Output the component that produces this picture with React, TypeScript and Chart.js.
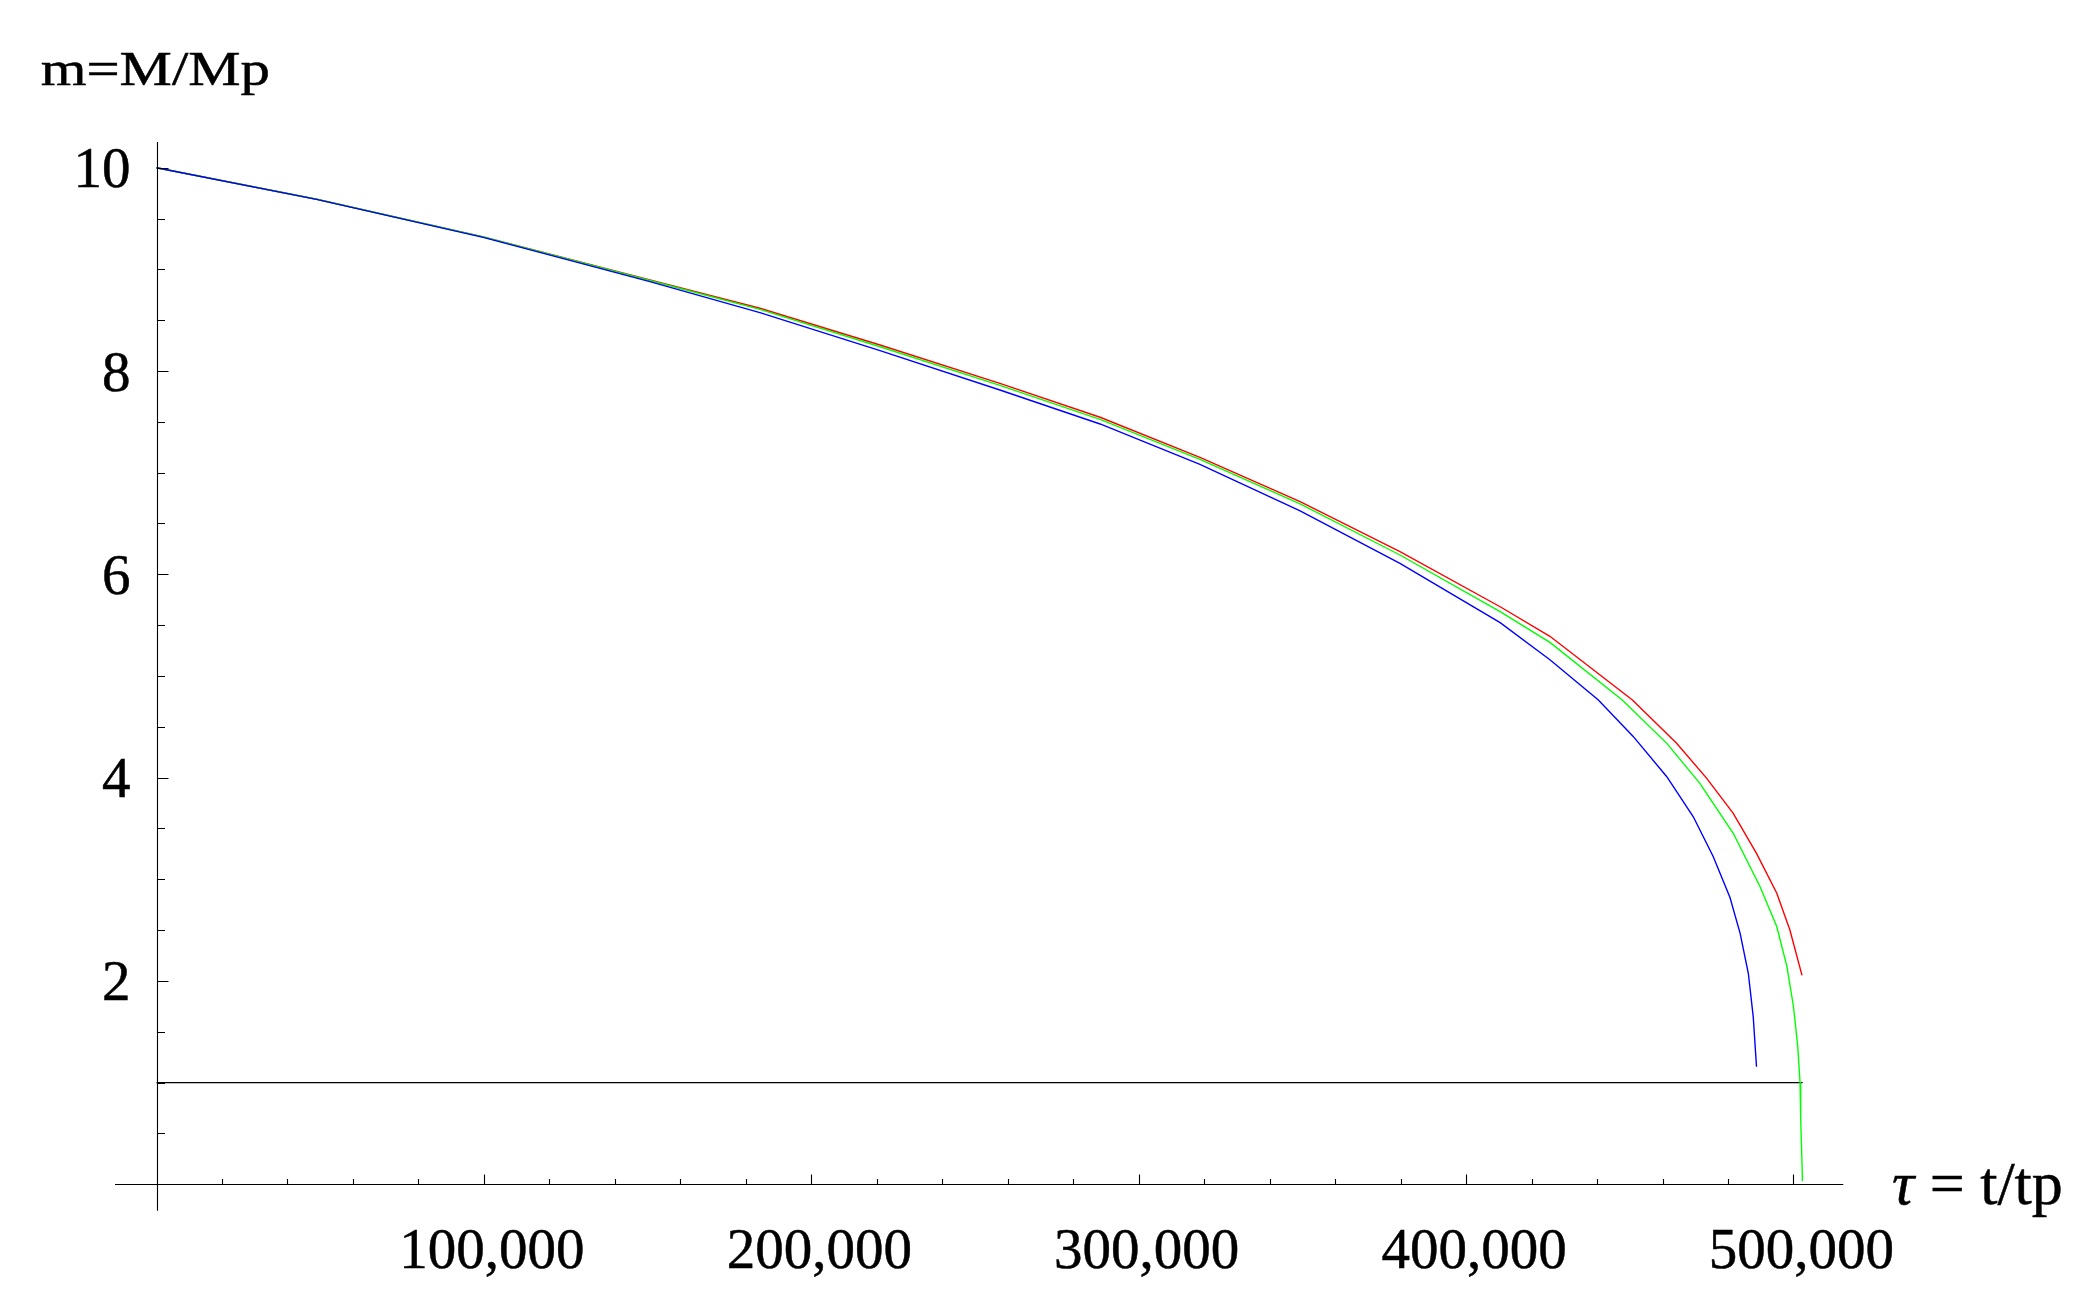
import React, { useEffect, useRef } from 'react';
import { Chart, registerables } from 'chart.js';

Chart.register(...registerables);

// ---- data ----
const redTau = [0, 48900, 99800, 150700, 184300, 221000, 257600, 288200, 318700, 349300, 379800, 410400, 425600, 450800, 464300, 473500, 481600, 488700, 494900, 498900, 502600];
const redM = [10, 9.69, 9.32, 8.895, 8.617, 8.256, 7.879, 7.545, 7.151, 6.714, 6.222, 5.681, 5.39, 4.763, 4.337, 3.993, 3.649, 3.255, 2.862, 2.501, 2.055];

const greenTau = [0, 48900, 99800, 150700, 184300, 221000, 257600, 288200, 318700, 349300, 379800, 410400, 425600, 447700, 461300, 471400, 481600, 489800, 494900, 498000, 500000, 501300, 502000, 502200, 502700, 502700];
const greenM = [10, 9.69, 9.318, 8.89, 8.607, 8.239, 7.859, 7.525, 7.131, 6.692, 6.19, 5.632, 5.33, 4.763, 4.337, 3.944, 3.452, 2.927, 2.533, 2.14, 1.746, 1.353, 1.0, 0.64, 0.09, 0.03];

const blueTau = [0, 48900, 99800, 150700, 184300, 221000, 257600, 288200, 318700, 349300, 379800, 410400, 425600, 440400, 451100, 461300, 469400, 475500, 480600, 483700, 486200, 487700, 488700];
const blueM = [10, 9.689, 9.315, 8.879, 8.574, 8.2, 7.813, 7.479, 7.082, 6.623, 6.108, 5.524, 5.16, 4.763, 4.403, 4.009, 3.615, 3.222, 2.82, 2.468, 2.075, 1.648, 1.156];

const thresholdTau = [0, 502800];
const thresholdM = [1, 1];

const xTickValues = [100000, 200000, 300000, 400000, 500000];
const xTickLabels = ['100,000', '200,000', '300,000', '400,000', '500,000'];
const yTickValues = [2, 4, 6, 8, 10];
const yTickLabels = ['2', '4', '6', '8', '10'];
const xMinorStep = 20000;
const yMinorStep = 0.5;

const yAxisTitle = 'm=M/Mp';
const xAxisTitleSymbol = 'τ';
const xAxisTitleRest = ' = t/tp';

const SERIF = "'Liberation Serif', 'Times New Roman', 'DejaVu Serif', serif";

const pts = (xs: number[], ys: number[]) => xs.map((x, i) => ({ x, y: ys[i] }));

const boldText = (ctx: CanvasRenderingContext2D, s: string, x: number, y: number) => {
  ctx.fillText(s, x, y);
  ctx.strokeText(s, x, y);
};

const axesPlugin = {
  id: 'mmaAxes',
  afterDatasetsDraw(chart: any) {
    const { ctx, chartArea } = chart;
    const xs = chart.scales.x;
    const ys = chart.scales.y;
    const x0 = Math.round(xs.getPixelForValue(0)) + 0.5;
    const y0 = Math.round(ys.getPixelForValue(0)) + 0.5;
    ctx.save();
    ctx.strokeStyle = '#000';
    ctx.lineWidth = 1.1;
    ctx.beginPath();
    ctx.moveTo(chartArea.left, y0);
    ctx.lineTo(chartArea.right, y0);
    ctx.moveTo(x0, chartArea.top);
    ctx.lineTo(x0, chartArea.bottom);
    for (let k = 1; k * xMinorStep <= xs.max; k++) {
      const v = k * xMinorStep;
      const major = xTickValues.includes(v);
      const px = Math.round(xs.getPixelForValue(v)) + 0.5;
      ctx.moveTo(px, y0);
      ctx.lineTo(px, y0 - (major ? 10 : 5.5));
    }
    for (let k = 1; k * yMinorStep <= ys.max; k++) {
      const v = k * yMinorStep;
      const major = yTickValues.includes(v);
      const py = Math.round(ys.getPixelForValue(v)) + 0.5;
      ctx.moveTo(x0, py);
      ctx.lineTo(x0 + (major ? 11 : 7.5), py);
    }
    ctx.stroke();

    ctx.fillStyle = '#000';
    ctx.lineWidth = 0.5;
    ctx.font = `57px ${SERIF}`;
    ctx.textBaseline = 'alphabetic';
    ctx.textAlign = 'center';
    xTickValues.forEach((v, i) => {
      boldText(ctx, xTickLabels[i], xs.getPixelForValue(v) + 8, y0 + 83);
    });
    ctx.textAlign = 'right';
    yTickValues.forEach((v, i) => {
      boldText(ctx, yTickLabels[i], x0 - 27, ys.getPixelForValue(v) + 19.5);
    });

    // y axis title (stretched horizontally like the reference)
    ctx.save();
    ctx.translate(40.7, 85);
    ctx.scale(1.2, 1);
    ctx.textAlign = 'left';
    ctx.font = `49px ${SERIF}`;
    boldText(ctx, yAxisTitle, 0, 0);
    ctx.restore();

    // x axis title
    ctx.textAlign = 'left';
    const tx = 1892;
    const ty = y0 + 19;
    ctx.font = `italic 62px ${SERIF}`;
    boldText(ctx, xAxisTitleSymbol, tx, ty);
    const w = ctx.measureText(xAxisTitleSymbol).width;
    ctx.font = `62px ${SERIF}`;
    boldText(ctx, xAxisTitleRest, tx + w, ty);
    ctx.restore();
  },
};

export default function App() {
  const ref = useRef<HTMLCanvasElement | null>(null);
  useEffect(() => {
    if (!ref.current) return;
    const lw = 1.4;
    const common = { showLine: true, borderWidth: lw, pointRadius: 0, tension: 0 };
    const chart = new Chart(ref.current, {
      type: 'scatter',
      data: {
        datasets: [
          { label: 'blue', data: pts(blueTau, blueM), borderColor: '#0000ff', order: 1, ...common },
          { label: 'green', data: pts(greenTau, greenM), borderColor: '#00ff00', order: 2, ...common },
          { label: 'red', data: pts(redTau, redM), borderColor: '#ff0000', order: 3, ...common },
          { label: 'm = 1', data: pts(thresholdTau, thresholdM), showLine: true, borderColor: '#000000', borderWidth: 1.2, pointRadius: 0, tension: 0, order: 4 },
        ],
      },
      options: {
        animation: false,
        responsive: false,
        devicePixelRatio: 1,
        layout: { padding: { left: 115, top: 142, right: 245.7, bottom: 94.3 } },
        scales: {
          x: { type: 'linear', min: -12676, max: 515211, display: false },
          y: { type: 'linear', min: -0.2607, max: 10.253, display: false },
        },
        plugins: { legend: { display: false }, tooltip: { enabled: false } },
      },
      plugins: [axesPlugin],
    } as any);
    return () => chart.destroy();
  }, []);
  return (
    <div style={{ position: 'absolute', left: 0, top: 0, width: 2089, height: 1305, background: '#fff' }}>
      <canvas ref={ref} width={2089} height={1305} style={{ display: 'block' }} />
    </div>
  );
}
